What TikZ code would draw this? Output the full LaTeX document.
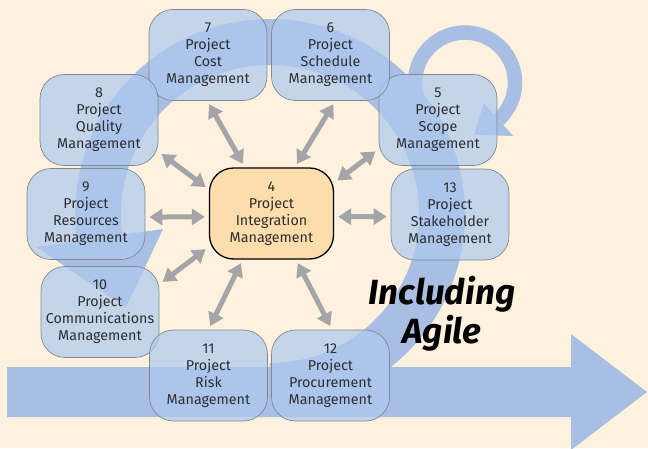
\documentclass[tikz,border=0pt]{standalone}
\usepackage{fontspec}
\setmainfont{Fira Sans}
\usetikzlibrary{arrows.meta,calc}
\definecolor{paper}{RGB}{254,242,222}
\definecolor{flow}{RGB}{168,191,227}
\definecolor{areafill}{RGB}{174,201,239}
\definecolor{areaedge}{RGB}{128,136,148}
\definecolor{hubfill}{RGB}{252,221,172}
\definecolor{linkgray}{RGB}{163,165,168}
\definecolor{ink}{RGB}{45,45,50}
\begin{document}
\begin{tikzpicture}[x=1pt, y=1pt,
    area/.style={draw=areaedge, line width=0.7pt, fill=areafill, fill opacity=0.7,
        text opacity=1, text=ink, rounded corners=24pt, minimum width=118pt,
        minimum height=91pt, align=center, inner sep=0pt,
        font=\fontsize{14.3}{17}\selectfont},
    hub/.style={area, draw=black, line width=1.3pt, fill=hubfill, fill opacity=1,
        minimum width=124pt},
    link/.style={draw=linkgray, line width=5pt,
        {Triangle[width=16pt,length=13pt]}-{Triangle[width=16pt,length=13pt]},
        shorten <=4pt, shorten >=4pt}]
    \useasboundingbox (0,0) rectangle (648,448);
    \fill[paper] (0,0) rectangle (648,448);

    % big cycle
    \coordinate (ctr) at (270,234);
    \draw[flow, line width=46pt]
        ($(ctr)+(-90:172)$) arc[start angle=-90, end angle=188, radius=172];
    \fill[flow] ($(ctr)+(188:236)$) -- ($(ctr)+(213:172)$) -- ($(ctr)+(188:108)$) -- cycle;

    % small loop
    \coordinate (turn) at (465,365.5);
    \draw[flow, line width=14.5pt]
        ($(turn)+(200:50)$) arc[start angle=200, end angle=-48, radius=50];
    \fill[flow] ($(turn)+(-48:72)$) -- ($(turn)+(-80:53)$) -- ($(turn)+(-48:28)$) -- cycle;

    % forward arrow
    \fill[flow] (7,31) -- (571,31) -- (571,-2) -- (647,56) -- (571,114)
        -- (571,81) -- (7,81) -- cycle;

    \node[hub] (b4) at (271.5,234.5) {4\\Project\\Integration\\Management};
    \node[area] (b5) at (438,328) {5\\Project\\Scope\\Management};
    \node[area] (b6) at (330.5,393) {6\\Project\\Schedule\\Management};
    \node[area] (b7) at (208,393) {7\\Project\\Cost\\Management};
    \node[area] (b8) at (99,328) {8\\Project\\Quality\\Management};
    \node[area] (b9) at (86,234) {9\\Project\\Resources\\Management};
    \node[area] (b10) at (100,136) {10\\Project\\Communications\\Management};
    \node[area] (b11) at (208.5,72.5) {11\\Project\\Risk\\Management};
    \node[area] (b12) at (330.5,72.5) {12\\Project\\Procurement\\Management};
    \node[area] (b13) at (450,233.5) {13\\Project\\Stakeholder\\Management};

    \draw[link] (b4.159) -- (b8.-28);
    \draw[link] (b4.120) -- (b7.-91);
    \draw[link] (b4.63) -- (b6.-84);
    \draw[link] (b4.26) -- (b5.206);
    \draw[link] (b4.-3) -- (b13.182);
    \draw[link] (b4.183) -- (b9.-3);
    \draw[link] (b4.208) -- (b10.25);
    \draw[link] (b4.238) -- (b11.90);
    \draw[link] (b4.298) -- (b12.88);

    \node[align=center, font=\fontsize{35}{39}\selectfont\bfseries\itshape]
        (agile) at (442,134) {Including\\Agile};
\end{tikzpicture}
\end{document}
